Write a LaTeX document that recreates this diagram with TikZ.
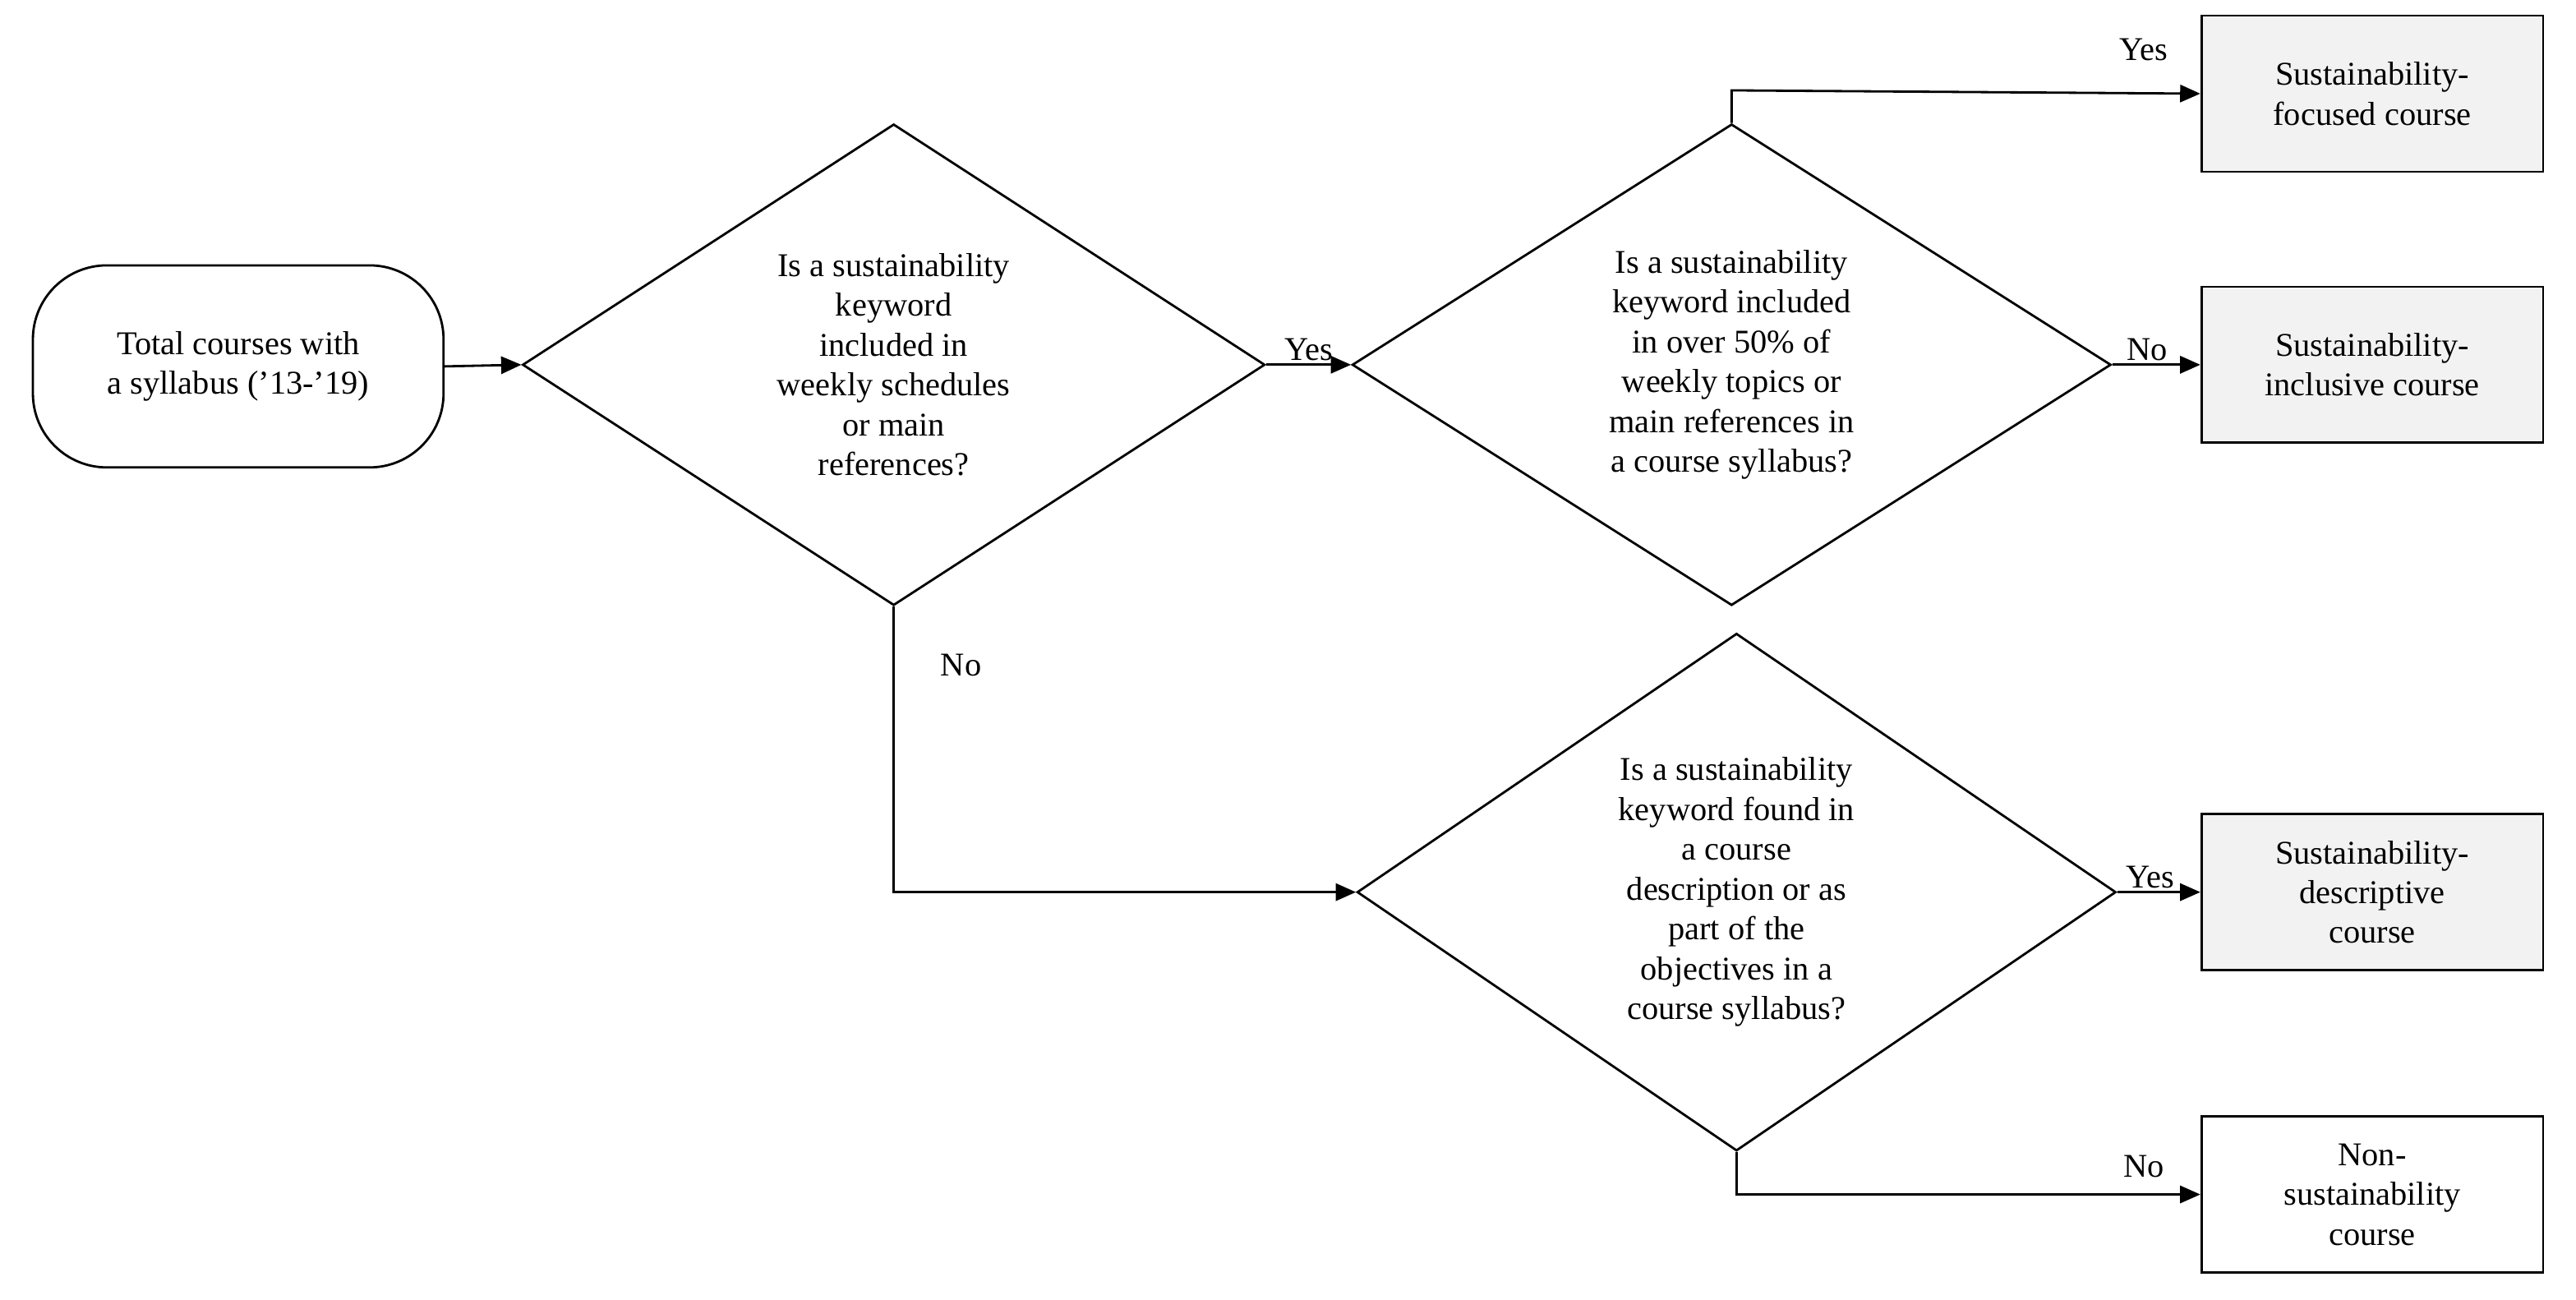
\documentclass[tikz,border=0pt]{standalone}
\usepackage{fontspec}
\setmainfont{Liberation Serif}
\usetikzlibrary{shapes.geometric,arrows.meta}
\begin{document}
\begin{tikzpicture}[x=0.02cm,y=-0.02cm,
  every node/.style={font=\fontsize{11.5}{13.8}\selectfont},
  dia/.style={draw,thick,diamond,aspect=1.54,inner sep=0pt,align=center},
  box/.style={draw,thick,minimum width=4.16cm,minimum height=1.9cm,align=center,inner sep=2pt},
  gbox/.style={box,fill=gray!10},
  arr/.style={-{Triangle[length=7pt,width=6pt]},thick},
  lab/.style={inner sep=1pt}]
\useasboundingbox (0,0) rectangle (1568,791);
\node[draw,thick,rounded corners=0.9cm,minimum width=5cm,minimum height=2.46cm,align=center] (start) at (145,223) {Total courses with\\a syllabus ('13-'19)};
\node[dia,minimum width=9.04cm,minimum height=5.86cm] (d1) at (544,222) {Is a sustainability\\keyword\\included in\\weekly schedules\\or main\\references?};
\node[dia,minimum width=9.24cm,minimum height=5.86cm] (d2) at (1054,222) {Is a sustainability\\keyword included\\in over 50\% of\\weekly topics or\\main references in\\a course syllabus?};
\node[dia,minimum width=9.24cm,minimum height=6.3cm] (d3) at (1057,543) {Is a sustainability\\keyword found in\\a course\\description or as\\part of the\\objectives in a\\course syllabus?};
\node[gbox] (b1) at (1444,57) {Sustainability-\\focused course};
\node[gbox] (b2) at (1444,222) {Sustainability-\\inclusive course};
\node[gbox] (b3) at (1444,543) {Sustainability-\\descriptive\\course};
\node[box] (b4) at (1444,727) {Non-\\sustainability\\course};
\coordinate (c1) at (544,543);
\coordinate (c2) at (1054,55);
\coordinate (c3) at (1057,727);
\draw[arr] (start.east) -- (d1.west);
\draw[arr] (d1.east) -- node[lab,above]{Yes} (d2.west);
\draw[arr] (d1.south) -- (c1) -- (d3.west);
\node[lab] (no1) at (585,405) {No};
\draw[arr] (d2.north) -- (c2) -- (b1.west);
\node[lab] (y2) at (1305,30) {Yes};
\draw[arr] (d2.east) -- node[lab,above,pos=0.4]{No} (b2.west);
\draw[arr] (d3.east) -- node[lab,above,pos=0.4]{Yes} (b3.west);
\draw[arr] (d3.south) -- (c3) -- (b4.west);
\node[lab] (n4) at (1305,710) {No};
\end{tikzpicture}
\end{document}
